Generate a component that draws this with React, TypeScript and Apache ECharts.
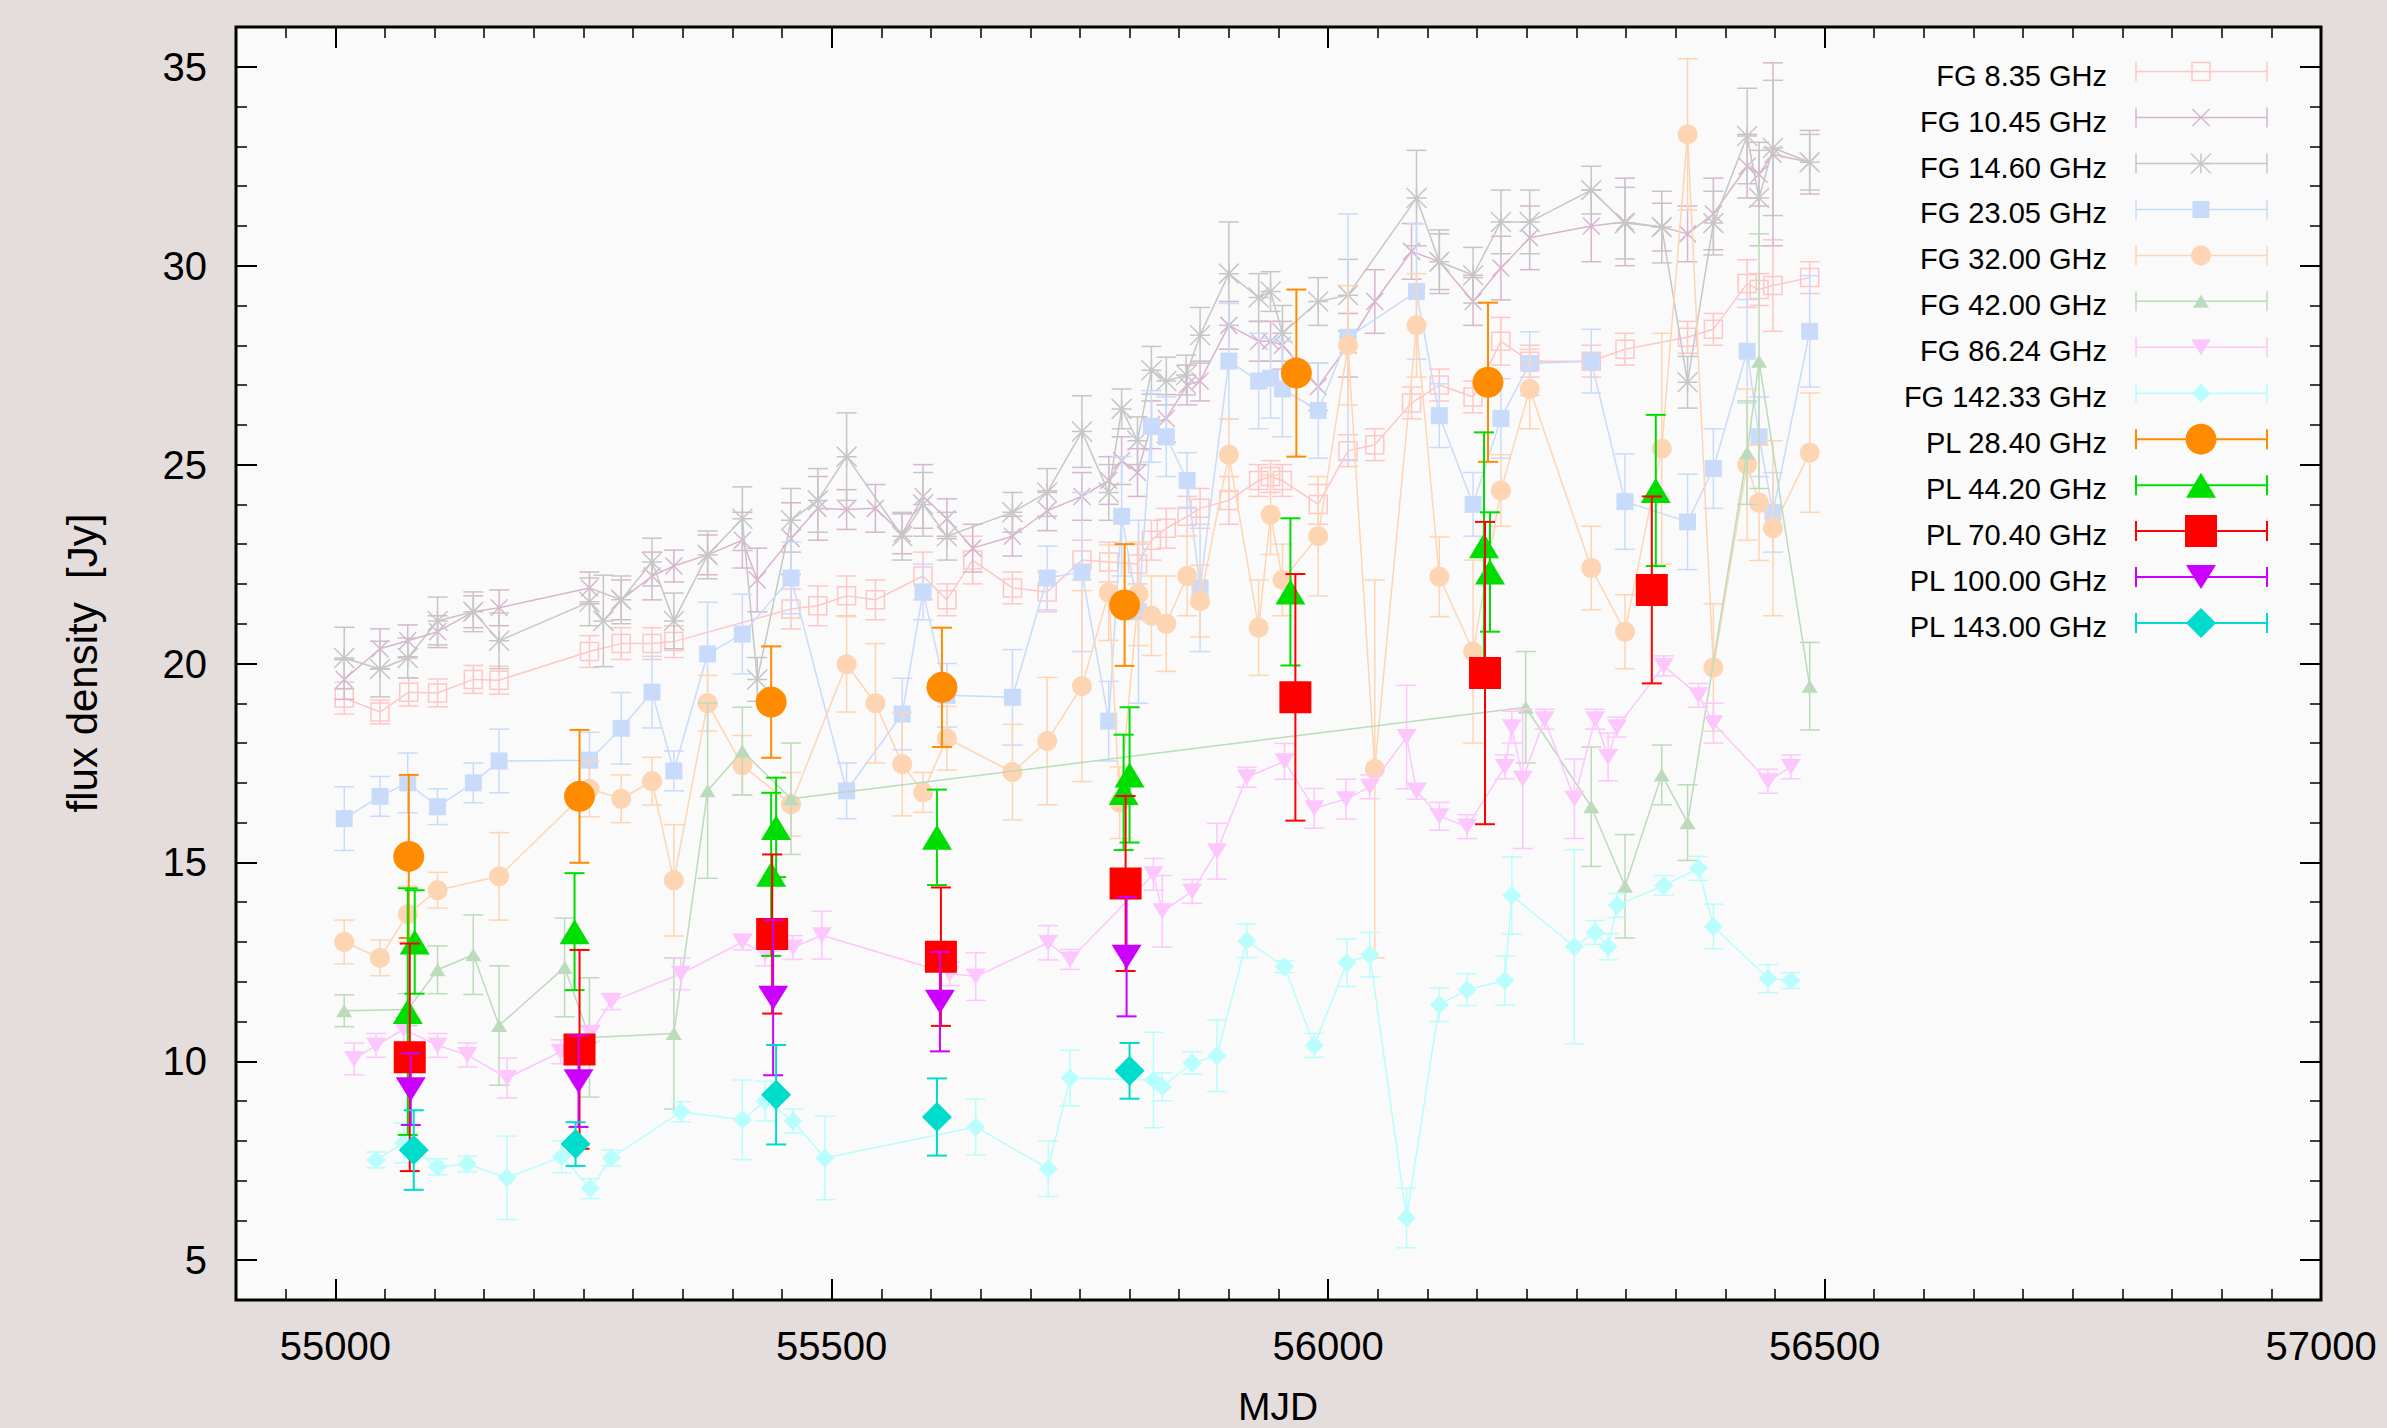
import React, { useEffect, useRef } from "react";
import * as echarts from "echarts";

type Pt = [number, number, number]; // MJD, flux density [Jy], error

const FG_8_35: Pt[] = [
  [55009, 19.13, 0.4], [55045, 18.78, 0.3], [55074, 19.28, 0.35], [55103, 19.26, 0.35], [55139, 19.6, 0.35],
  [55165, 19.58, 0.35], [55256, 20.3, 0.4], [55288, 20.5, 0.4], [55319, 20.5, 0.4], [55341, 20.55, 0.4],
  [55459, 21.37, 0.5], [55486, 21.45, 0.5], [55515, 21.7, 0.5], [55544, 21.6, 0.5], [55592, 22.2, 0.6],
  [55616, 21.6, 0.4], [55642, 22.6, 0.6], [55682, 21.9, 0.4], [55717, 21.8, 0.5], [55752, 22.6, 0.5],
  [55779, 22.55, 0.5], [55808, 22.5, 0.5], [55822, 23.1, 0.5], [55837, 23.4, 0.5], [55858, 23.7, 0.5],
  [55871, 23.9, 0.5], [55900, 24.1, 0.6], [55930, 24.6, 0.4], [55942, 24.7, 0.4], [55954, 24.6, 0.4],
  [55990, 24.0, 0.5], [56020, 25.35, 0.4], [56047, 25.5, 0.4], [56084, 26.55, 0.4], [56112, 27.0, 0.4],
  [56146, 26.7, 0.4], [56174, 28.1, 0.6], [56203, 27.6, 0.4], [56265, 27.6, 0.4], [56299, 27.9, 0.4],
  [56362, 28.2, 0.4], [56388, 28.4, 0.4], [56422, 29.55, 0.6], [56434, 29.4, 0.4], [56448, 29.5, 1.15],
  [56485, 29.7, 0.4],
];

const FG_10_45: Pt[] = [
  [55009, 19.6, 0.5], [55045, 20.37, 0.5], [55073, 20.57, 0.4], [55103, 20.8, 0.4], [55139, 21.3, 0.4],
  [55165, 21.4, 0.45], [55256, 21.9, 0.4], [55288, 21.6, 0.5], [55319, 22.2, 0.6], [55341, 22.45, 0.4],
  [55375, 22.73, 0.5], [55410, 23.1, 0.7], [55425, 22.1, 0.8], [55459, 23.14, 0.9], [55486, 23.9, 0.8],
  [55515, 23.87, 0.5], [55544, 23.9, 0.6], [55571, 23.26, 0.5], [55592, 24.2, 0.8], [55616, 23.64, 0.5],
  [55642, 22.9, 0.6], [55682, 23.2, 0.5], [55717, 23.84, 0.5], [55752, 24.2, 0.6], [55779, 24.6, 0.6],
  [55792, 25.1, 0.6], [55808, 24.8, 0.6], [55822, 26.0, 0.6], [55837, 26.16, 0.6], [55858, 27.0, 0.5],
  [55871, 27.1, 0.5], [55900, 28.5, 0.6], [55930, 28.1, 0.5], [55942, 28.1, 0.5], [55954, 28.0, 0.6],
  [55990, 26.96, 0.6], [56020, 28.0, 0.8], [56047, 29.1, 0.8], [56084, 30.36, 0.7], [56112, 30.1, 0.7],
  [56146, 29.1, 0.6], [56174, 29.94, 0.8], [56203, 30.7, 0.8], [56265, 31.0, 0.9], [56299, 31.1, 1.1],
  [56336, 30.97, 0.6], [56362, 30.8, 0.7], [56388, 31.3, 0.9], [56422, 32.5, 0.8], [56434, 32.3, 0.8],
  [56448, 32.8, 2.3], [56485, 32.6, 0.8],
];

const FG_14_60: Pt[] = [
  [55009, 20.14, 0.77], [55045, 19.86, 0.7], [55073, 20.14, 0.5], [55103, 21.07, 0.6], [55139, 21.3, 0.5],
  [55165, 20.57, 0.7], [55256, 21.55, 0.6], [55270, 21.07, 1.15], [55288, 21.6, 0.6], [55319, 22.55, 0.6],
  [55341, 21.07, 0.7], [55375, 22.73, 0.6], [55410, 23.64, 0.8], [55425, 19.6, 0.55], [55459, 23.6, 0.8],
  [55486, 24.1, 0.8], [55515, 25.2, 1.1], [55571, 23.2, 0.6], [55592, 24.0, 0.8], [55616, 23.2, 0.6],
  [55682, 23.8, 0.5], [55717, 24.3, 0.6], [55752, 25.83, 0.9], [55779, 24.3, 0.7], [55792, 26.4, 0.5],
  [55808, 25.6, 0.6], [55822, 27.37, 0.6], [55837, 27.1, 0.6], [55857, 27.25, 0.5], [55871, 28.25, 0.7],
  [55900, 29.8, 1.3], [55930, 29.2, 0.6], [55942, 29.35, 0.5], [55954, 28.3, 0.7], [55990, 29.1, 0.6],
  [56020, 29.26, 0.9], [56089, 31.7, 1.2], [56112, 30.1, 0.8], [56146, 29.76, 0.7], [56174, 31.1, 0.8],
  [56203, 31.1, 0.8], [56265, 31.9, 0.6], [56299, 31.07, 0.9], [56336, 30.97, 0.9], [56362, 27.07, 0.65],
  [56388, 31.07, 0.8], [56422, 33.26, 1.2], [56434, 31.7, 1.2], [56448, 32.96, 1.7], [56485, 32.6, 0.7],
];

const FG_23_05: Pt[] = [
  [55009, 16.1, 0.8], [55045, 16.66, 0.5], [55073, 17.0, 0.75], [55103, 16.4, 0.45], [55139, 17.0, 0.5],
  [55165, 17.55, 0.8], [55256, 17.57, 0.7], [55288, 18.37, 0.9], [55319, 19.28, 0.9], [55341, 17.3, 0.5],
  [55375, 20.24, 1.3], [55410, 20.74, 1.0], [55459, 22.15, 0.9], [55515, 16.8, 0.7], [55571, 18.73, 0.9],
  [55592, 21.8, 0.7], [55616, 19.2, 0.8], [55682, 19.15, 1.2], [55717, 22.15, 0.8], [55752, 22.3, 2.0],
  [55779, 18.55, 1.0], [55792, 23.7, 1.5], [55809, 21.3, 2.3], [55822, 25.96, 0.9], [55837, 25.7, 1.0],
  [55858, 24.6, 0.7], [55871, 21.9, 1.6], [55900, 27.6, 1.45], [55930, 27.1, 1.2], [55942, 27.17, 1.0],
  [55954, 26.9, 1.2], [55990, 26.36, 1.2], [56020, 28.2, 3.1], [56089, 29.35, 1.7], [56112, 26.23, 0.8],
  [56146, 24.0, 0.8], [56174, 26.16, 1.0], [56203, 27.54, 0.8], [56265, 27.6, 0.8], [56299, 24.07, 1.2],
  [56362, 23.56, 1.2], [56388, 24.9, 1.0], [56422, 27.85, 1.3], [56434, 25.7, 1.0], [56448, 23.8, 1.0],
  [56485, 28.35, 1.4],
];

const FG_32_00: Pt[] = [
  [55009, 13.0, 0.55], [55045, 12.6, 0.45], [55073, 13.7, 0.7], [55103, 14.3, 0.45], [55165, 14.65, 1.1],
  [55256, 16.85, 0.7], [55288, 16.6, 0.6], [55319, 17.04, 0.6], [55341, 14.55, 1.4], [55375, 19.0, 0.7],
  [55410, 17.44, 0.75], [55459, 16.46, 0.8], [55515, 19.98, 1.2], [55544, 19.0, 1.5], [55571, 17.47, 1.3],
  [55592, 16.76, 0.5], [55616, 18.12, 0.8], [55682, 17.27, 1.2], [55717, 18.05, 1.6], [55752, 19.43, 2.4],
  [55779, 21.78, 1.2], [55790, 16.5, 0.9], [55809, 21.75, 1.3], [55822, 21.2, 1.0], [55837, 21.0, 1.2],
  [55858, 22.2, 1.0], [55871, 21.57, 0.9], [55900, 25.25, 0.9], [55930, 20.9, 1.2], [55942, 23.74, 1.0],
  [55954, 22.1, 0.9], [55990, 23.2, 1.5], [56020, 28.0, 1.5], [56047, 17.35, 4.75], [56089, 28.5, 1.3],
  [56112, 22.18, 1.0], [56146, 20.3, 2.3], [56174, 24.35, 0.9], [56203, 26.9, 1.0], [56265, 22.4, 1.05],
  [56299, 20.8, 0.93], [56336, 25.4, 2.9], [56362, 33.3, 1.9], [56388, 19.9, 1.6], [56422, 25.0, 1.9],
  [56434, 24.04, 1.45], [56448, 23.4, 2.2], [56485, 25.3, 1.5],
];

const FG_42_00: Pt[] = [
  [55009, 11.27, 0.4], [55073, 11.3, 0.4], [55103, 12.3, 0.6], [55139, 12.68, 1.0], [55165, 10.9, 1.5],
  [55231, 12.36, 1.24], [55256, 10.6, 1.5], [55341, 10.7, 1.9], [55375, 16.8, 2.2], [55410, 17.8, 1.1],
  [55459, 16.6, 1.4], [56199, 18.9, 1.4], [56265, 16.4, 1.5], [56299, 14.4, 1.3], [56336, 17.2, 0.75],
  [56362, 16.0, 0.95], [56422, 25.3, 1.3], [56434, 27.6, 3.2], [56485, 19.43, 1.1],
];

const FG_86_24: Pt[] = [
  [55019, 10.06, 0.4], [55041, 10.4, 0.3], [55069, 10.8, 0.3], [55103, 10.4, 0.3], [55133, 10.16, 0.3],
  [55173, 9.58, 0.5], [55227, 10.24, 0.3], [55257, 10.7, 0.2], [55278, 11.5, 0.2], [55348, 12.2, 0.4],
  [55410, 13.0, 0.2], [55433, 12.7, 0.3], [55461, 12.86, 0.3], [55490, 13.17, 0.6], [55619, 12.2, 0.3],
  [55645, 12.13, 0.6], [55718, 12.98, 0.43], [55740, 12.56, 0.25], [55824, 14.7, 0.4], [55833, 13.77, 0.9],
  [55863, 14.27, 0.3], [55888, 15.28, 0.7], [55918, 17.14, 0.25], [55956, 17.54, 0.45], [55986, 16.36, 0.5],
  [56018, 16.59, 0.5], [56042, 16.9, 0.3], [56079, 18.15, 1.3], [56089, 16.79, 0.2], [56112, 16.16, 0.35],
  [56140, 15.9, 0.3], [56178, 17.4, 0.3], [56185, 18.4, 0.4], [56196, 17.1, 1.75], [56218, 18.6, 0.25],
  [56248, 16.6, 1.0], [56269, 18.6, 0.25], [56282, 17.65, 0.6], [56291, 18.4, 0.25], [56338, 19.94, 0.25],
  [56373, 19.2, 0.3], [56388, 18.5, 0.5], [56443, 17.04, 0.3], [56466, 17.4, 0.3],
];

const FG_142_33: Pt[] = [
  [55041, 7.52, 0.2], [55069, 7.95, 0.5], [55103, 7.35, 0.2], [55133, 7.42, 0.2], [55173, 7.07, 1.05],
  [55228, 7.6, 0.4], [55257, 6.8, 0.25], [55278, 7.57, 0.2], [55348, 8.73, 0.25], [55410, 8.53, 1.0],
  [55433, 9.0, 0.5], [55461, 8.5, 0.3], [55493, 7.57, 1.05], [55645, 8.35, 0.7], [55718, 7.3, 0.7],
  [55740, 9.58, 0.7], [55824, 9.53, 1.2], [55833, 9.36, 0.35], [55863, 9.96, 0.28], [55888, 10.14, 0.9],
  [55918, 13.03, 0.42], [55956, 12.38, 0.15], [55986, 10.4, 0.3], [56019, 12.48, 0.6], [56042, 12.68, 0.56],
  [56079, 6.06, 0.75], [56112, 11.42, 0.42], [56140, 11.8, 0.4], [56178, 12.03, 0.62], [56185, 14.17, 0.97],
  [56248, 12.88, 2.44], [56269, 13.24, 0.3], [56282, 12.88, 0.33], [56291, 13.92, 0.3], [56338, 14.42, 0.25],
  [56373, 14.85, 0.3], [56388, 13.39, 0.56], [56443, 12.08, 0.35], [56466, 12.03, 0.2],
];

const PL_28_40: Pt[] = [
  [55074, 15.15, 2.05], [55246, 16.66, 1.67], [55439, 19.03, 1.4], [55611, 19.4, 1.5],
  [55795, 21.47, 1.53], [55968, 27.3, 2.1], [56161, 27.07, 2.0],
];

const PL_44_20: Pt[] = [
  [55073, 11.25, 3.1], [55080, 13.0, 1.3], [55241, 13.26, 1.47], [55439, 14.7, 2.05], [55444, 15.88, 1.25],
  [55606, 15.63, 1.2], [55794, 16.76, 1.45], [55800, 17.2, 1.7], [55962, 21.8, 1.85], [56157, 22.96, 2.85],
  [56163, 22.3, 1.5], [56330, 24.35, 1.9],
];

const PL_70_40: Pt[] = [
  [55075, 10.1, 2.86], [55246, 10.3, 2.5], [55440, 13.2, 2.0], [55610, 12.63, 1.74],
  [55796, 14.47, 2.2], [55967, 19.15, 3.1], [56158, 19.76, 3.8], [56326, 21.85, 2.35],
];

const PL_100_00: Pt[] = [
  [55076, 9.3, 0.9], [55245, 9.5, 1.15], [55441, 11.6, 1.95], [55609, 11.5, 1.25], [55797, 12.63, 1.5],
];

const PL_143_00: Pt[] = [
  [55079, 7.77, 1.0], [55242, 7.92, 0.55], [55444, 9.16, 1.25], [55606, 8.6, 0.97], [55800, 9.76, 0.7],
];

const X_TICKS = [55000, 55500, 56000, 56500, 57000];
const Y_TICKS = [5, 10, 15, 20, 25, 30, 35];
const X_MIN = 54900, X_MAX = 57000, Y_MIN = 4, Y_MAX = 36;

const X_MINOR: number[] = [];
for (let v = X_MIN + 50; v < X_MAX; v += 50) if (v % 500 !== 0) X_MINOR.push(v);
const Y_MINOR: number[] = [];
for (let v = Y_MIN + 1; v < Y_MAX; v += 1) if (v % 5 !== 0) Y_MINOR.push(v);

type Kind = "openSquare" | "cross" | "star" | "square" | "circle" | "triangle" | "down" | "diamond";
interface Spec {
  name: string; data: Pt[]; color: string; kind: Kind; size: number | number[];
  hollow: boolean; joined: boolean; lw: number;
}

const SPECS: Spec[] = [
  { name: "FG 8.35 GHz", data: FG_8_35, color: "#ffc6c6", kind: "openSquare", size: 18, hollow: true, joined: true, lw: 1.5 },
  { name: "FG 10.45 GHz", data: FG_10_45, color: "#d8b4cf", kind: "cross", size: 17, hollow: true, joined: true, lw: 1.5 },
  { name: "FG 14.60 GHz", data: FG_14_60, color: "#c6c6c6", kind: "star", size: 20, hollow: true, joined: true, lw: 1.5 },
  { name: "FG 23.05 GHz", data: FG_23_05, color: "#c9dbfb", kind: "square", size: 17, hollow: false, joined: true, lw: 1.5 },
  { name: "FG 32.00 GHz", data: FG_32_00, color: "#fed5b3", kind: "circle", size: 20, hollow: false, joined: true, lw: 1.5 },
  { name: "FG 42.00 GHz", data: FG_42_00, color: "#bbdbbb", kind: "triangle", size: [16, 13], hollow: false, joined: true, lw: 1.5 },
  { name: "FG 86.24 GHz", data: FG_86_24, color: "#fdc6fd", kind: "down", size: [20, 16], hollow: false, joined: true, lw: 1.5 },
  { name: "FG 142.33 GHz", data: FG_142_33, color: "#b9fdfd", kind: "diamond", size: 19, hollow: false, joined: true, lw: 1.5 },
  { name: "PL 28.40 GHz", data: PL_28_40, color: "#ff8c00", kind: "circle", size: 31, hollow: false, joined: false, lw: 2 },
  { name: "PL 44.20 GHz", data: PL_44_20, color: "#00dd00", kind: "triangle", size: [30, 25], hollow: false, joined: false, lw: 2 },
  { name: "PL 70.40 GHz", data: PL_70_40, color: "#ff0000", kind: "square", size: 32, hollow: false, joined: false, lw: 2 },
  { name: "PL 100.00 GHz", data: PL_100_00, color: "#cc00ff", kind: "down", size: [30, 24], hollow: false, joined: false, lw: 2 },
  { name: "PL 143.00 GHz", data: PL_143_00, color: "#00dccc", kind: "diamond", size: 30, hollow: false, joined: false, lw: 2 },
];

const SYMBOLS: Record<Kind, string> = {
  openSquare: "path://M0,0L10,0L10,10L0,10Z",
  cross: "path://M0,0L10,10M10,0L0,10",
  star: "path://M0,0L10,10M10,0L0,10M5,0L5,10M0,5L10,5",
  square: "rect",
  circle: "circle",
  triangle: "triangle",
  down: "path://M0,0L10,0L5,10Z",
  diamond: "diamond",
};

const FONT = "'Liberation Sans', Arial, Helvetica, sans-serif";
const CAP_HALF = 10;

function seg(x1: number, y1: number, x2: number, y2: number, style: any) {
  return { type: "line", shape: { x1, y1, x2, y2 }, style };
}

function legendSymbol(kind: Kind, cx: number, cy: number, size: number | number[], color: string) {
  const [w, h] = Array.isArray(size) ? size : [size, size];
  const hw = w / 2, hh = h / 2;
  const stroke = { stroke: color, lineWidth: 1.5, fill: "none" };
  const fill = { fill: color };
  switch (kind) {
    case "openSquare":
      return [{ type: "rect", shape: { x: cx - hw, y: cy - hh, width: w, height: h }, style: stroke }];
    case "cross":
      return [seg(cx - hw, cy - hh, cx + hw, cy + hh, stroke), seg(cx + hw, cy - hh, cx - hw, cy + hh, stroke)];
    case "star":
      return [
        seg(cx - hw, cy - hh, cx + hw, cy + hh, stroke), seg(cx + hw, cy - hh, cx - hw, cy + hh, stroke),
        seg(cx, cy - hh, cx, cy + hh, stroke), seg(cx - hw, cy, cx + hw, cy, stroke),
      ];
    case "square":
      return [{ type: "rect", shape: { x: cx - hw, y: cy - hh, width: w, height: h }, style: fill }];
    case "circle":
      return [{ type: "circle", shape: { cx, cy, r: hw }, style: fill }];
    case "triangle":
      return [{ type: "polygon", shape: { points: [[cx, cy - hh], [cx + hw, cy + hh], [cx - hw, cy + hh]] }, style: fill }];
    case "down":
      return [{ type: "polygon", shape: { points: [[cx - hw, cy - hh], [cx + hw, cy - hh], [cx, cy + hh]] }, style: fill }];
    case "diamond":
      return [{ type: "polygon", shape: { points: [[cx, cy - hh], [cx + hw, cy], [cx, cy + hh], [cx - hw, cy]] }, style: fill }];
  }
  return [];
}

function xAxis(pos: "bottom" | "top", major: boolean) {
  const label = pos === "bottom" && major;
  return {
    type: "value", min: X_MIN, max: X_MAX, position: pos,
    axisLine: { show: false }, splitLine: { show: false }, minorTick: { show: false },
    axisTick: {
      show: true, inside: true, length: major ? 21 : 11,
      lineStyle: { color: "#000", width: major ? 2 : 1.5 },
      customValues: major ? X_TICKS : X_MINOR,
    },
    axisLabel: label
      ? { show: true, customValues: X_TICKS, margin: 26, fontSize: 40, fontFamily: FONT, color: "#000", formatter: (v: number) => String(v) }
      : { show: false },
  };
}

function yAxis(pos: "left" | "right", major: boolean) {
  const label = pos === "left" && major;
  return {
    type: "value", min: Y_MIN, max: Y_MAX, position: pos,
    axisLine: { show: false }, splitLine: { show: false }, minorTick: { show: false },
    axisTick: {
      show: true, inside: true, length: major ? 21 : 11,
      lineStyle: { color: "#000", width: major ? 2 : 1.5 },
      customValues: major ? Y_TICKS : Y_MINOR,
    },
    axisLabel: label
      ? { show: true, customValues: Y_TICKS, margin: 29, fontSize: 40, fontFamily: FONT, color: "#000", formatter: (v: number) => String(v) }
      : { show: false },
  };
}

function buildOption() {
  const series: any[] = [];
  SPECS.forEach((s, i) => {
    const z = 2 + i;
    series.push({
      type: "custom",
      name: s.name + " errors",
      silent: true,
      z,
      clip: true,
      xAxisIndex: 0,
      yAxisIndex: 0,
      data: s.data.map(([x, y, e]) => [x, y - e, y + e]),
      encode: { x: 0, y: [1, 2] },
      renderItem: (_params: any, api: any) => {
        const lo = api.coord([api.value(0), api.value(1)]);
        const hi = api.coord([api.value(0), api.value(2)]);
        const style = { stroke: s.color, lineWidth: s.lw, fill: "none" };
        return {
          type: "group",
          children: [
            seg(lo[0], lo[1], hi[0], hi[1], style),
            seg(lo[0] - CAP_HALF, lo[1], lo[0] + CAP_HALF, lo[1], style),
            seg(hi[0] - CAP_HALF, hi[1], hi[0] + CAP_HALF, hi[1], style),
          ],
        };
      },
    });
    series.push({
      type: s.joined ? "line" : "scatter",
      name: s.name,
      silent: true,
      z,
      xAxisIndex: 0,
      yAxisIndex: 0,
      data: s.data.map(([x, y]) => [x, y]),
      symbol: SYMBOLS[s.kind],
      symbolSize: s.size,
      showSymbol: true,
      showAllSymbol: true,
      lineStyle: { color: s.color, width: s.lw },
      itemStyle: s.hollow
        ? { color: "none", borderColor: s.color, borderWidth: 1.5 }
        : { color: s.color, borderWidth: 0, opacity: 1 },
      emphasis: { disabled: true },
    });
  });

  const elements: any[] = [];
  elements.push({
    type: "text", x: 82, y: 663, rotation: Math.PI / 2, z: 100,
    style: { text: "flux density  [Jy]", fontSize: 42, fontFamily: FONT, fill: "#000", align: "center", verticalAlign: "middle" },
  });
  elements.push({
    type: "text", x: 1278, y: 1426, z: 100,
    style: { text: "MJD", fontSize: 39, fontFamily: FONT, fill: "#000", align: "center", verticalAlign: "bottom" },
  });

  const LX1 = 2136, LX2 = 2267, LSYM = 2201, LTEXT = 2107;
  SPECS.forEach((s, i) => {
    const y = 71.6 + i * 45.95;
    const st = { stroke: s.color, lineWidth: s.lw, fill: "none" };
    elements.push({
      type: "text", x: LTEXT, y: y + 4, z: 100,
      style: { text: s.name, fontSize: 29, fontFamily: FONT, fill: "#000", align: "right", verticalAlign: "middle" },
    });
    elements.push({
      type: "group", z: 100,
      children: [
        seg(LX1, y, LX2, y, st),
        seg(LX1, y - CAP_HALF, LX1, y + CAP_HALF, st),
        seg(LX2, y - CAP_HALF, LX2, y + CAP_HALF, st),
        ...legendSymbol(s.kind, LSYM, y, s.size, s.color),
      ],
    });
  });

  return {
    animation: false,
    backgroundColor: "#e5dcdc",
    grid: {
      left: 236, top: 27, width: 2085, height: 1273,
      show: true, backgroundColor: "#fafafa", borderColor: "#000", borderWidth: 3,
      containLabel: false, outerBoundsMode: "none",
    },
    xAxis: [xAxis("bottom", true), xAxis("bottom", false), xAxis("top", true), xAxis("top", false)],
    yAxis: [yAxis("left", true), yAxis("left", false), yAxis("right", true), yAxis("right", false)],
    series,
    graphic: { elements },
  };
}

export default function App() {
  const ref = useRef<HTMLDivElement>(null);
  useEffect(() => {
    if (!ref.current) return;
    const chart = echarts.init(ref.current, null, { renderer: "svg", width: 2387, height: 1428 });
    chart.setOption(buildOption() as any);
    return () => chart.dispose();
  }, []);
  return <div ref={ref} style={{ position: "fixed", left: 0, top: 0, width: 2387, height: 1428 }} />;
}
